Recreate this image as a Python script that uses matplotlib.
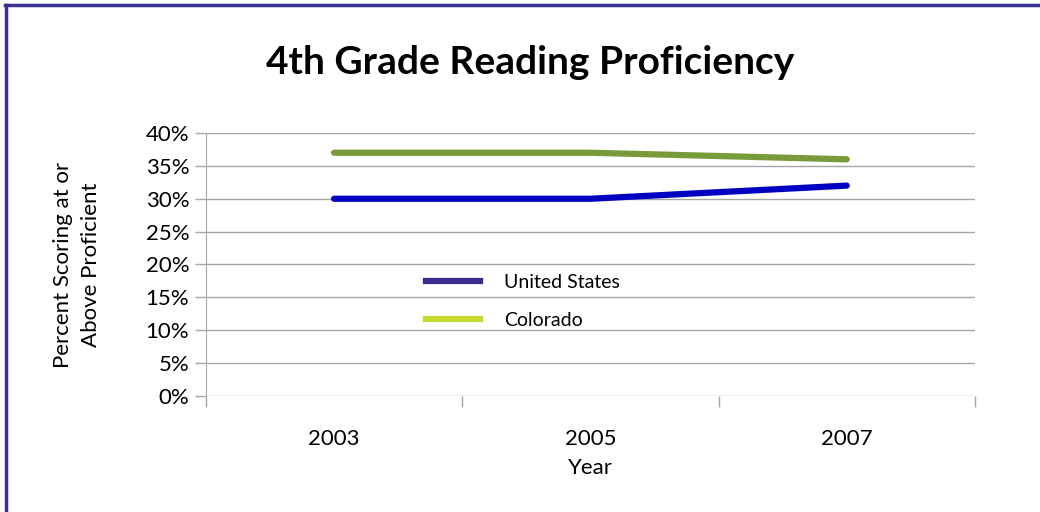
import matplotlib.pyplot as plt
from matplotlib.lines import Line2D
from matplotlib.ticker import FuncFormatter, FixedLocator

plt.rcParams['font.family'] = ['Lato', 'DejaVu Sans']

years = ['2003', '2005', '2007']
us = [30, 30, 32]
colorado = [37, 37, 36]

fig = plt.figure(figsize=(10.4, 5.12), dpi=100)
ax = fig.add_axes([0.198, 0.2266, 0.7394, 0.5136])

x = range(len(years))
ax.plot(x, colorado, color='#789a3a', linewidth=4.5, solid_capstyle='round', zorder=3)
ax.plot(x, us, color='#0000c0', linewidth=4.5, solid_capstyle='round', zorder=3)

ax.set_xlim(-0.5, 2.5)
ax.set_ylim(0, 40)
ax.set_yticks(range(0, 41, 5))
ax.yaxis.set_major_formatter(FuncFormatter(lambda v, p: f'{int(v)}%'))
ax.set_xticks(list(x))
ax.set_xticklabels(years)
ax.xaxis.set_minor_locator(FixedLocator([-0.5, 0.5, 1.5, 2.5]))
ax.tick_params(axis='x', which='major', length=0, pad=24, labelsize=16)
ax.tick_params(axis='x', which='minor', length=8, color='#a6a6a6', width=1)
ax.tick_params(axis='y', length=8, color='#a6a6a6', width=1, labelsize=16, pad=4)

ax.grid(axis='y', color='#a6a6a6', linewidth=1)
ax.set_axisbelow(True)
for s in ['top', 'right', 'bottom']:
    ax.spines[s].set_visible(False)
ax.spines['left'].set_color('#a6a6a6')

ax.set_xlabel('Year', fontsize=16, labelpad=6)
ax.set_ylabel('Percent Scoring at or\nAbove Proficient', fontsize=16, labelpad=32,
              linespacing=1.5)

handles = [Line2D([], [], color='#3a2e8c', linewidth=4.5),
           Line2D([], [], color='#c4d82e', linewidth=4.5)]
ax.legend(handles, ['United States', 'Colorado'], frameon=False, fontsize=14,
          loc='center', bbox_to_anchor=(0.412, 0.36), handlelength=2.8,
          labelspacing=1.05, handletextpad=1.2)

fig.text(0.51, 0.878, '4th Grade Reading Proficiency', ha='center', va='center',
         fontsize=28, fontweight='bold')

# border along top and left edges
fig.add_artist(Line2D([0.005, 1.0], [0.9902, 0.9902], color='#3b3192', linewidth=2.5,
                      transform=fig.transFigure))
fig.add_artist(Line2D([0.0058, 0.0058], [0.0, 0.9902], color='#3b3192', linewidth=2.5,
                      transform=fig.transFigure))

fig.savefig('out.png', dpi=100)
